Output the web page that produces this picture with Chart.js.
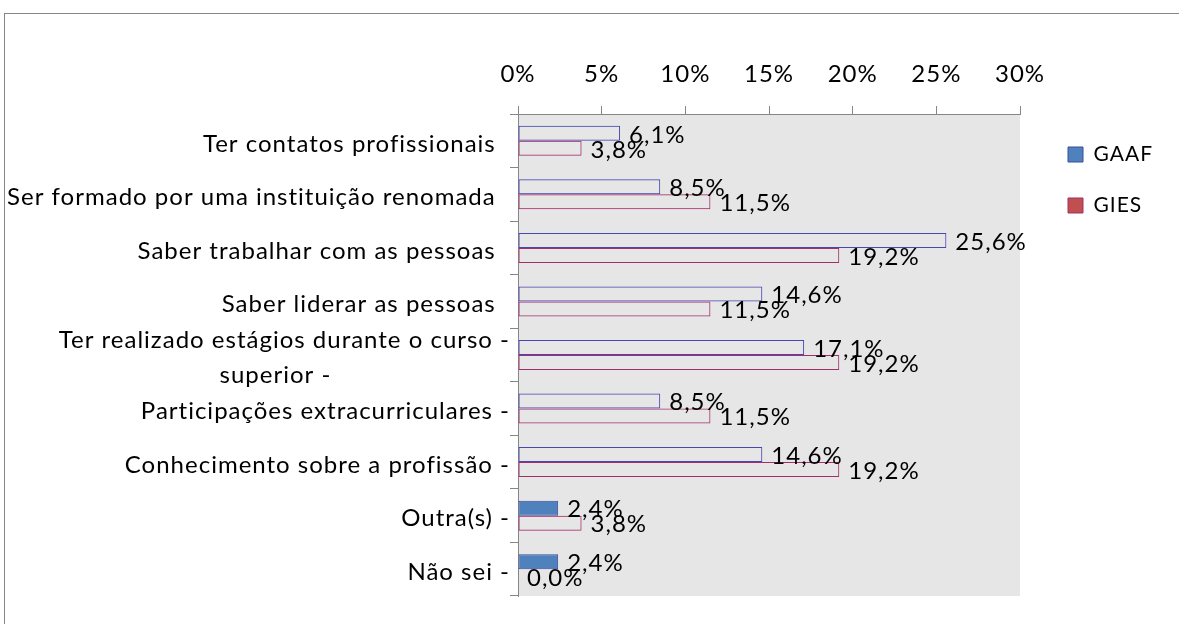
<!DOCTYPE html>
<html><head><meta charset="utf-8">
<script src="https://cdn.jsdelivr.net/npm/chart.js@4.4.1/dist/chart.umd.min.js"></script>
<style>
html,body{margin:0;padding:0;background:#fff;}
#wrap{position:relative;width:1179px;height:624px;overflow:hidden;}
#frame{position:absolute;left:4px;top:13px;width:1300px;height:700px;border-left:1px solid #868686;border-top:1px solid #868686;}
canvas{position:absolute;left:0;top:0;}
</style></head><body>
<div id="wrap"><div id="frame"></div><canvas id="c" width="1179" height="624"></canvas></div>
<script>
const categories = [
  "Ter contatos profissionais",
  "Ser formado por uma instituição renomada",
  "Saber trabalhar com as pessoas",
  "Saber liderar as pessoas",
  ["Ter realizado estágios durante o curso -", "superior -"],
  "Participações extracurriculares -",
  "Conhecimento sobre a profissão -",
  "Outra(s) -",
  "Não sei -"
];
const seriesNames = ["GAAF", "GIES"];
const gaafValues = [6.1, 8.5, 25.6, 14.6, 17.1, 8.5, 14.6, 2.4, 2.4];
const giesValues = [3.8, 11.5, 19.2, 11.5, 19.2, 11.5, 19.2, 3.8, 0.0];
const xTickValues = [0, 5, 10, 15, 20, 25, 30];

const FONT = 'Lato';
const SPACING = '1px';
const fmt = v => v.toFixed(1).replace('.', ',') + '%';

const mctx = document.createElement('canvas').getContext('2d');
mctx.letterSpacing = SPACING;
mctx.font = '24px ' + FONT;
function labelText(lbl) {
  if (Array.isArray(lbl)) {
    const w = lbl.map(s => mctx.measureText(s).width);
    const maxW = Math.max(...w);
    const sp = mctx.measureText(' ').width;
    return lbl.map((s, i) => s + ' '.repeat(Math.max(0, Math.round((maxW - w[i]) / 2 / sp) + (i > 0 ? 1 : 0))));
  }
  return lbl.endsWith('-') ? lbl : lbl + '  ';
}

// legend natural width -> right padding so that the plot ends at x=1020
mctx.font = '21px ' + FONT;
const legendTextW = Math.max(...seriesNames.map(s => mctx.measureText(s).width));
const LEG_PAD = 30, BOX = 15, FS = 21, SPACER = 18;
const legendW = LEG_PAD + BOX + FS / 2 + legendTextW + 6;
const padRight = Math.max(0, 1179 - 1020 - SPACER - legendW);

const plotBg = {
  id: 'plotBg',
  beforeDraw(chart) {
    const a = chart.chartArea, ctx = chart.ctx;
    ctx.letterSpacing = SPACING;
    ctx.save();
    ctx.fillStyle = '#e6e6e6';
    ctx.fillRect(a.left, a.top, a.right - a.left, a.bottom - a.top);
    ctx.restore();
  }
};
const valueLabels = {
  id: 'valueLabels',
  afterDatasetsDraw(chart) {
    const ctx = chart.ctx;
    ctx.save();
    ctx.letterSpacing = SPACING;
    ctx.font = '24px ' + FONT;
    ctx.fillStyle = '#000';
    ctx.textBaseline = 'middle';
    ctx.textAlign = 'left';
    chart.data.datasets.forEach((ds, di) => {
      chart.getDatasetMeta(di).data.forEach((bar, i) => {
        ctx.fillText(fmt(ds.data[i]), bar.x + 9, bar.y + 1.5);
      });
    });
    ctx.restore();
  }
};

const gaafFill = gaafValues.map((v, i) => i >= 7 ? '#4f81bd' : 'rgba(0,0,0,0)');
const gaafBorder = gaafValues.map((v, i) => i >= 7 ? '#3d4a9e' : '#4646b4');

new Chart(document.getElementById('c'), {
  type: 'bar',
  data: {
    labels: categories,
    datasets: [
      { label: seriesNames[0], data: gaafValues, backgroundColor: gaafFill, borderColor: gaafBorder,
        borderWidth: 1, borderSkipped: false, categoryPercentage: 0.56, barPercentage: 1.0 },
      { label: seriesNames[1], data: giesValues, backgroundColor: 'rgba(0,0,0,0)', borderColor: '#a52d6a',
        borderWidth: 1, borderSkipped: false, categoryPercentage: 0.56, barPercentage: 1.0 }
    ]
  },
  options: {
    indexAxis: 'y',
    responsive: false,
    animation: false,
    devicePixelRatio: 1,
    layout: { padding: { left: 0, top: 0, right: padRight, bottom: 28 } },
    scales: {
      x: {
        position: 'top',
        min: 0, max: 30,
        afterBuildTicks(s) { s.ticks = xTickValues.map(v => ({ value: v })); },
        afterFit(s) { s.height = 114; },
        grid: { drawOnChartArea: false, tickLength: 8, color: '#868686' },
        border: { color: '#868686' },
        ticks: { padding: 17, color: '#000', font: { family: FONT, size: 24 }, callback: v => v + '%', maxRotation: 0 }
      },
      y: {
        position: 'left',
        afterFit(s) { s.width = 518; },
        grid: { drawOnChartArea: false, tickLength: 8, color: '#868686', offset: true },
        border: { color: '#868686' },
        ticks: {
          padding: 0, labelOffset: 3, color: '#000', autoSkip: false,
          font: { family: FONT, size: 24, lineHeight: 1.45 },
          callback: function (v, i) { return labelText(categories[i]); }
        }
      },
      yR: {
        type: 'category', axis: 'y', position: 'right', display: true,
        afterFit(s) { s.width = SPACER; },
        grid: { display: false }, border: { display: false }, ticks: { display: false }
      }
    },
    plugins: {
      tooltip: { enabled: false },
      legend: {
        position: 'right', align: 'start', fullSize: false,
        labels: {
          padding: LEG_PAD, boxWidth: BOX, boxHeight: BOX, color: '#000',
          font: { family: FONT, size: FS },
          generateLabels() {
            return [
              { text: seriesNames[0], fillStyle: '#4f81bd', strokeStyle: '#3d4a9e', lineWidth: 1, datasetIndex: 0 },
              { text: seriesNames[1], fillStyle: '#c0504d', strokeStyle: '#a52d6a', lineWidth: 1, datasetIndex: 1 }
            ];
          }
        }
      }
    }
  },
  plugins: [plotBg, valueLabels]
});
</script>
</body></html>
